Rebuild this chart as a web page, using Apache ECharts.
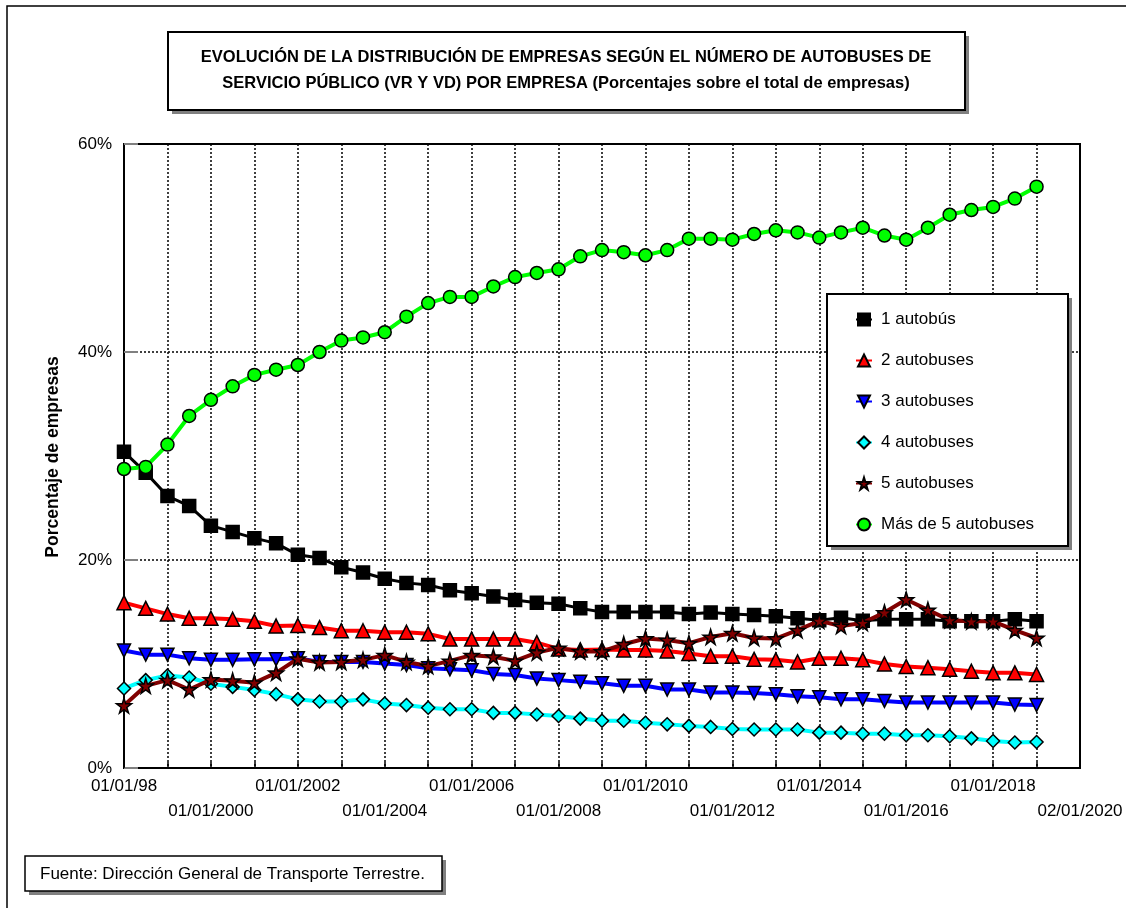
<!DOCTYPE html>
<html>
<head>
<meta charset="utf-8">
<script src="https://cdn.jsdelivr.net/npm/echarts@6/dist/echarts.min.js"></script>
<style>
html,body{margin:0;padding:0;background:#fff;}
#chart{width:1126px;height:908px;}
</style>
</head>
<body>
<div id="chart"></div>
<script>
// ---- DATA ----
const dates = ['1998-01','1998-07','1999-01','1999-07','2000-01','2000-07','2001-01','2001-07','2002-01','2002-07',
  '2003-01','2003-07','2004-01','2004-07','2005-01','2005-07','2006-01','2006-07','2007-01','2007-07',
  '2008-01','2008-07','2009-01','2009-07','2010-01','2010-07','2011-01','2011-07','2012-01','2012-07',
  '2013-01','2013-07','2014-01','2014-07','2015-01','2015-07','2016-01','2016-07','2017-01','2017-07',
  '2018-01','2018-07','2019-01'];
const seriesNames = ['1 autobús','2 autobuses','3 autobuses','4 autobuses','5 autobuses','Más de 5 autobuses'];
const bus1 = [30.4,28.4,26.15,25.2,23.3,22.7,22.1,21.6,20.5,20.2,19.3,18.8,18.2,17.8,17.6,17.1,16.8,16.5,16.15,15.9,15.8,15.35,15.0,15.0,15.0,15.0,14.8,14.95,14.8,14.7,14.6,14.4,14.2,14.45,14.15,14.3,14.3,14.3,14.1,14.1,14.1,14.3,14.1];
const bus2 = [15.9,15.35,14.8,14.4,14.4,14.3,14.1,13.65,13.7,13.5,13.2,13.2,13.05,13.05,12.9,12.4,12.4,12.4,12.4,12.05,11.45,11.35,11.4,11.35,11.35,11.25,11.0,10.75,10.75,10.45,10.4,10.2,10.55,10.55,10.4,10.0,9.75,9.65,9.5,9.3,9.15,9.15,9.0];
const bus3 = [11.3,10.9,10.9,10.55,10.4,10.4,10.45,10.45,10.55,10.2,10.2,10.2,10.05,9.9,9.6,9.5,9.4,9.05,8.95,8.6,8.45,8.3,8.15,7.9,7.9,7.55,7.55,7.25,7.25,7.2,7.1,6.9,6.8,6.6,6.6,6.45,6.3,6.3,6.3,6.3,6.3,6.1,6.05];
const bus4 = [7.65,8.45,8.9,8.7,8.1,7.8,7.5,7.1,6.6,6.4,6.4,6.6,6.2,6.05,5.8,5.65,5.65,5.3,5.3,5.15,5.0,4.75,4.55,4.55,4.35,4.2,4.05,3.95,3.75,3.7,3.7,3.7,3.4,3.4,3.3,3.3,3.15,3.15,3.05,2.85,2.6,2.45,2.5];
const bus5 = [6.0,7.9,8.45,7.55,8.5,8.4,8.2,9.15,10.5,10.15,10.2,10.4,10.85,10.2,9.8,10.3,10.85,10.7,10.3,11.1,11.55,11.2,11.2,11.9,12.45,12.3,12.0,12.6,12.95,12.5,12.45,13.25,14.15,13.65,13.95,14.95,16.2,15.2,14.2,14.1,14.1,13.25,12.5];
const busMore = [28.75,28.95,31.1,33.85,35.4,36.7,37.8,38.3,38.75,40.0,41.1,41.4,41.9,43.4,44.7,45.3,45.3,46.3,47.2,47.6,47.95,49.2,49.8,49.6,49.3,49.8,50.9,50.9,50.8,51.35,51.7,51.5,51.0,51.5,51.95,51.2,50.8,51.95,53.2,53.65,53.95,54.75,55.9];
const tickYears = [1998,2000,2002,2004,2006,2008,2010,2012,2014,2016,2018,2020];
const tickLabels = ['01/01/98','01/01/2000','01/01/2002','01/01/2004','01/01/2006','01/01/2008','01/01/2010','01/01/2012','01/01/2014','01/01/2016','01/01/2018','02/01/2020'];
const yTicks = [0,20,40,60];
const titleLines = ['EVOLUCIÓN DE LA DISTRIBUCIÓN DE EMPRESAS SEGÚN EL NÚMERO DE AUTOBUSES DE',
  'SERVICIO PÚBLICO (VR Y VD) POR EMPRESA (Porcentajes sobre el total de empresas)'];
const yAxisTitle = 'Porcentaje de empresas';
const sourceText = 'Fuente: Dirección General de Transporte Terrestre.';

// ---- BUILD ----
function toYear(d){ const p = d.split('-'); return +p[0] + (+p[1]-1)/12; }
const xs = dates.map(toYear);
function pts(arr){ return arr.map((v,i)=>[xs[i], v]); }

const FONT = 'Liberation Sans, Arial, sans-serif';
const starPath = 'path://M50,0 L61,35 L98,35 L68,57 L79,91 L50,70 L21,91 L32,57 L2,35 L39,35 Z';
const invTri = 'path://M0,0 L10,0 L5,10 Z';

const styles = [
  {data: bus1, color:'#000000', symbol:'rect', size:13, lw:3},
  {data: bus2, color:'#FF0000', symbol:'triangle', size:14, lw:4},
  {data: bus3, color:'#0000FF', symbol:invTri, size:13, lw:4},
  {data: bus4, color:'#00FFFF', symbol:'diamond', size:13, lw:4},
  {data: bus5, color:'#800000', symbol:starPath, size:15, lw:4},
  {data: busMore, color:'#00FF00', symbol:'circle', size:13, lw:4}
];

const series = styles.map((s,i)=>({
  name: seriesNames[i],
  type: 'line',
  data: pts(s.data),
  symbol: s.symbol,
  symbolSize: s.size,
  showAllSymbol: true,
  animation: false,
  lineStyle: {color: s.color, width: s.lw},
  itemStyle: {color: s.color, borderColor: '#000', borderWidth: 1.5},
  emphasis: {disabled: true},
  z: 2 + i*0.01
}));

const chart = echarts.init(document.getElementById('chart'));
const option = {
  animation: false,
  backgroundColor: '#ffffff',
  textStyle: {fontFamily: FONT},
  grid: {left:124, top:144, right:46, bottom:140, show:true, borderColor:'#000', borderWidth:2, backgroundColor:'transparent'},
  xAxis: {
    type: 'value', min: 1998, max: 2020, interval: 1,
    axisLine: {show:true, lineStyle:{color:'#000', width:2}},
    axisTick: {show:true, inside:true, length:6, lineStyle:{color:'#000', width:1.5},
      interval: function(idx, val){ return tickYears.indexOf(+val) >= 0; }},
    splitLine: {show:true, lineStyle:{color:'#000', type:[2,2], width:1.5}},
    axisLabel: {
      show: true, fontSize: 17, color:'#000', margin: 6, lineHeight: 25,
      showMinLabel: true, showMaxLabel: true,
      formatter: function(v){
        const k = tickYears.indexOf(Math.round(v));
        if (k < 0) return '';
        return (k % 2 === 1 ? '\n' : '') + tickLabels[k];
      }
    }
  },
  yAxis: {
    type: 'value', min: yTicks[0], max: yTicks[yTicks.length-1], interval: 20,
    axisLine: {show:true, lineStyle:{color:'#000', width:2}},
    axisTick: {show:true, inside:true, length:14, lineStyle:{color:'#808080', width:2}},
    splitLine: {show:true, lineStyle:{color:'#000', type:[2,2], width:1.5}},
    axisLabel: {fontSize:17, color:'#000', margin:12, formatter:'{value}%'}
  },
  legend: {
    orient: 'vertical', left: 855, top: 311, padding: 0,
    itemWidth: 16, itemHeight: 15, itemGap: 24,
    textStyle: {fontSize:17, color:'#000', padding:[0,0,0,4]},
    data: seriesNames,
    selectedMode: false,
    z: 10
  },
  graphic: [
    {type:'rect', z:0, silent:true, shape:{x:7,y:6,width:1200,height:1000}, style:{fill:'none', stroke:'#000', lineWidth:1.5}},
    // title box
    {type:'rect', z:5, silent:true, shape:{x:172,y:36,width:797,height:78}, style:{fill:'#808080'}},
    {type:'rect', z:6, silent:true, shape:{x:168,y:32,width:797,height:78}, style:{fill:'#fff', stroke:'#000', lineWidth:2}},
    {type:'text', z:7, silent:true, x:566, y:57, style:{text:titleLines[0], font:'bold 16.5px '+FONT, fill:'#000', align:'center', verticalAlign:'middle'}},
    {type:'text', z:7, silent:true, x:566, y:83, style:{text:titleLines[1], font:'bold 16.5px '+FONT, fill:'#000', align:'center', verticalAlign:'middle'}},
    // legend box
    {type:'rect', z:5, silent:true, shape:{x:831,y:298,width:241,height:252}, style:{fill:'#808080'}},
    {type:'rect', z:6, silent:true, shape:{x:827,y:294,width:241,height:252}, style:{fill:'#fff', stroke:'#000', lineWidth:2}},
    // y axis title
    {type:'text', z:7, silent:true, x:53, y:457, rotation:Math.PI/2, style:{text:yAxisTitle, font:'bold 17.5px '+FONT, fill:'#000', align:'center', verticalAlign:'middle'}},
    // source box
    {type:'rect', z:5, silent:true, shape:{x:29,y:860,width:417,height:35}, style:{fill:'#808080'}},
    {type:'rect', z:6, silent:true, shape:{x:25,y:856,width:417,height:35}, style:{fill:'#fff', stroke:'#000', lineWidth:1.5}},
    {type:'text', z:7, silent:true, x:40, y:874, style:{text:sourceText, font:'17px '+FONT, fill:'#000', align:'left', verticalAlign:'middle'}}
  ],
  series: series
};
chart.setOption(option);
</script>
</body>
</html>
